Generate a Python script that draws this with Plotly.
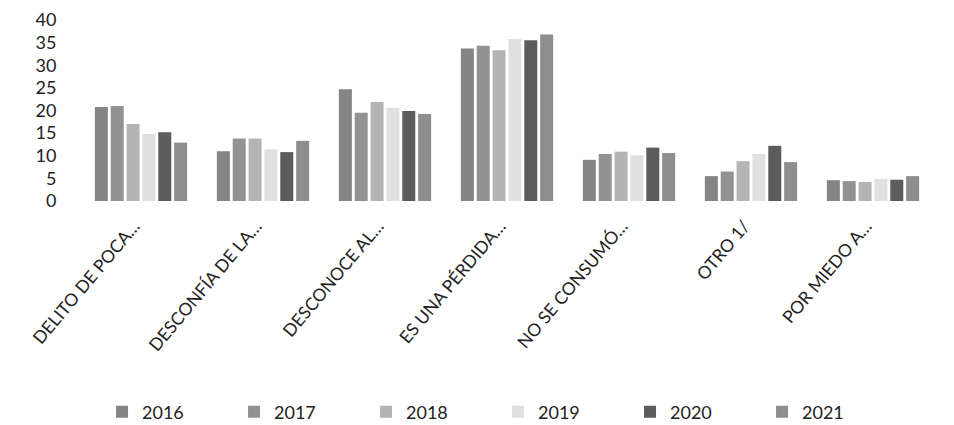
import plotly.graph_objects as go

categories = ["DELITO DE POCA…", "DESCONFÍA DE LA…", "DESCONOCE AL…",
              "ES UNA PÉRDIDA…", "NO SE CONSUMÓ…", "OTRO 1/", "POR MIEDO A…"]
years = ["2016", "2017", "2018", "2019", "2020", "2021"]
v2016 = [20.8, 11.0, 24.7, 33.7, 9.1, 5.5, 4.6]
v2017 = [21.0, 13.8, 19.5, 34.3, 10.4, 6.5, 4.4]
v2018 = [17.0, 13.8, 21.9, 33.3, 10.9, 8.8, 4.2]
v2019 = [14.8, 11.4, 20.6, 35.8, 10.1, 10.4, 4.9]
v2020 = [15.2, 10.8, 19.9, 35.5, 11.8, 12.2, 4.7]
v2021 = [12.9, 13.3, 19.2, 36.8, 10.6, 8.6, 5.5]
series = [v2016, v2017, v2018, v2019, v2020, v2021]
colors = ["#858585", "#929292", "#b4b4b4", "#e0e0e0", "#5c5c5c", "#8e8e8e"]

FONT = "Lato"
fig = go.Figure()
for name, vals, col in zip(years, series, colors):
    fig.add_trace(go.Bar(x=categories, y=vals, name=name,
                         marker=dict(color=col, line=dict(width=0))))

# page body has an 8px default margin, so the figure is sized to fit
fig.update_layout(
    width=946, height=417,
    margin=dict(l=72, r=20, t=12, b=224, autoexpand=False),
    paper_bgcolor="white", plot_bgcolor="white",
    font=dict(family=FONT, size=18, color="#222"),
    barmode="group", bargap=0.22, bargroupgap=0.18,
    showlegend=True,
    legend=dict(orientation="h", xref="container", yref="container",
                x=0.518, xanchor="center", y=0.031, yanchor="middle",
                entrywidth=87, font=dict(family=FONT, size=18, color="#222"),
                traceorder="normal"),
)
fig.update_yaxes(range=[0, 40], dtick=5, showgrid=False, zeroline=False,
                 showline=False, ticks="outside", ticklen=19,
                 tickcolor="rgba(0,0,0,0)", automargin=False,
                 tickfont=dict(family=FONT, size=18, color="#222"))
fig.update_xaxes(showgrid=False, showline=False, ticks="outside", ticklen=7,
                 tickcolor="rgba(0,0,0,0)", tickangle=-50, automargin=False,
                 ticklabelshift=-7,
                 tickfont=dict(family=FONT, size=17.5, color="#222"))

fig.write_html("out.html")
